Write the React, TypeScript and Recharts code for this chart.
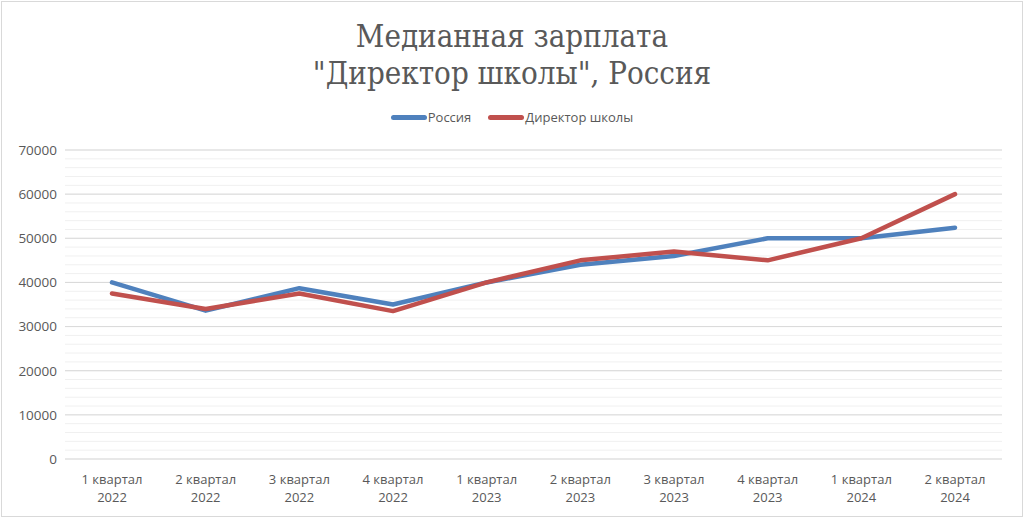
import { LineChart, Line, XAxis, YAxis, CartesianGrid } from "recharts";

const categories = [
  "1 квартал 2022",
  "2 квартал 2022",
  "3 квартал 2022",
  "4 квартал 2022",
  "1 квартал 2023",
  "2 квартал 2023",
  "3 квартал 2023",
  "4 квартал 2023",
  "1 квартал 2024",
  "2 квартал 2024",
];
const russia = [40000, 33600, 38700, 35000, 40000, 44000, 46000, 50000, 50000, 52400];
const director = [37500, 34000, 37500, 33500, 40000, 45000, 47000, 45000, 50000, 60000];
const majorTicks = [0, 10000, 20000, 30000, 40000, 50000, 60000, 70000];
const minorTicks = Array.from({ length: 36 }, (_, i) => i * 2000);
const yMax = 70000;

const data = categories.map((name, i) => ({
  name,
  russia: russia[i],
  director: director[i],
}));

const BLUE = "#4f81bd";
const RED = "#c0504d";
const TEXT = "#595959";

const CategoryTick = (props: any) => {
  const { x, y, payload } = props;
  const s = String(payload.value);
  const k = s.lastIndexOf(" ");
  return (
    <g transform={`translate(${x},${y})`}>
      <text textAnchor="middle" fill={TEXT} fontSize={13} fontFamily="'Open Sans', sans-serif">
        <tspan x={0} y={17}>{s.slice(0, k)}</tspan>
        <tspan x={0} y={35}>{s.slice(k + 1)}</tspan>
      </text>
    </g>
  );
};

const legendItems = [
  { label: "Россия", color: BLUE },
  { label: "Директор школы", color: RED },
];

// minor gridlines every 2000
const minorLines = ({ yAxis, offset }: any) => {
  const sc = yAxis && yAxis.scale;
  return minorTicks.map((v) => {
    if (typeof sc === "function") return sc(v);
    if (sc && typeof sc.map === "function") return sc.map(v);
    return offset.top + offset.height * (1 - v / yMax);
  });
};

export default function App() {
  return (
    <div style={{ position: "absolute", left: 0, top: 0, width: 1024, height: 518, background: "#fff" }}>
      <div
        style={{
          position: "absolute",
          left: 1,
          top: 1,
          width: 1020,
          height: 514,
          border: "1px solid #d9d9d9",
        }}
      />
      <div
        style={{
          position: "absolute",
          top: 18,
          width: 1024,
          textAlign: "center",
          fontFamily: "'DejaVu Serif Condensed', 'DejaVu Serif', serif",
          fontSize: 31,
          lineHeight: "37px",
          color: TEXT,
        }}
      >
        Медианная зарплата
        <br />
        "Директор школы", Россия
      </div>
      <div
        style={{
          position: "absolute",
          top: 108,
          width: 1024,
          display: "flex",
          justifyContent: "center",
          gap: 17,
          fontFamily: "'Open Sans', sans-serif",
          fontSize: 13,
          color: TEXT,
        }}
      >
        {legendItems.map((it) => (
          <div key={it.label} style={{ display: "flex", alignItems: "center" }}>
            <span style={{ width: 36, height: 5, borderRadius: 3, background: it.color, marginRight: 1 }} />
            {it.label}
          </div>
        ))}
      </div>
      <LineChart
        width={1024}
        height={518}
        data={data}
        margin={{ top: 150, right: 22, bottom: 9, left: 8 }}
        style={{ position: "absolute", left: 0, top: 0 }}
      >
        <CartesianGrid vertical={false} stroke="#f0f0f0" horizontalCoordinatesGenerator={minorLines} />
        <CartesianGrid vertical={false} stroke="#d9d9d9" />
        <XAxis
          dataKey="name"
          axisLine={false}
          tickLine={false}
          interval={0}
          height={50}
          padding={{ left: 47, right: 47 }}
          tick={<CategoryTick />}
        />
        <YAxis
          domain={[0, yMax]}
          ticks={majorTicks}
          axisLine={false}
          tickLine={false}
          width={57}
          tick={{ fill: TEXT, fontSize: 13.5, fontFamily: "'Open Sans', sans-serif" }}
        />
        <Line
          dataKey="russia"
          name="Россия"
          stroke={BLUE}
          strokeWidth={4.5}
          dot={false}
          strokeLinejoin="round"
          strokeLinecap="round"
          isAnimationActive={false}
        />
        <Line
          dataKey="director"
          name="Директор школы"
          stroke={RED}
          strokeWidth={4.5}
          dot={false}
          strokeLinejoin="round"
          strokeLinecap="round"
          isAnimationActive={false}
        />
      </LineChart>
    </div>
  );
}
